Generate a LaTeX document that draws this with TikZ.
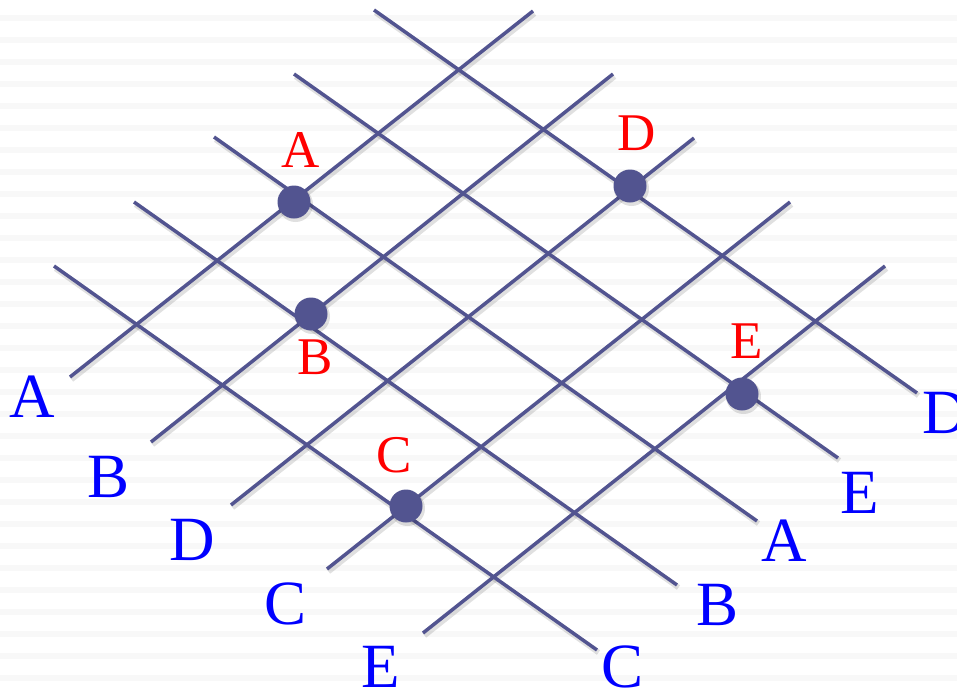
\documentclass[tikz,border=0pt]{standalone}
\usepackage{fontspec}
\setmainfont{Liberation Serif}
\usetikzlibrary{positioning}
\definecolor{gridline}{HTML}{525490}
\definecolor{stripe}{HTML}{F8F8F8}
\definecolor{tagblue}{HTML}{0000FF}
\definecolor{tagred}{HTML}{FF0000}

\begin{document}
\begin{tikzpicture}[x=1pt, y=-1pt,
  grid/.style={draw=gridline, line width=3.5pt},
  gridshade/.style={draw=black, opacity=0.12, line width=5.5pt},
  dot/.style={circle, fill=gridline, minimum size=33pt, inner sep=0pt},
  tag/.style={text=tagblue, font=\fontsize{63}{63}\selectfont, inner sep=0pt},
  hit/.style={text=tagred, font=\fontsize{53}{53}\selectfont, inner sep=0pt}]
\useasboundingbox (0,0) rectangle (957,691);
\clip (0,0) rectangle (957,691);
% striped background
\fill[white] (0,0) rectangle (957,691);
\foreach \y in {15,37,...,675}
  \fill[stripe] (0,\y) rectangle (957,\y+6);

% line ends, rising lines
\coordinate (uA-s) at (70,377);  \coordinate (uA-e) at (533,11);
\coordinate (uB-s) at (151,442); \coordinate (uB-e) at (613,74);
\coordinate (uD-s) at (231,505); \coordinate (uD-e) at (694,138);
\coordinate (uC-s) at (327,569); \coordinate (uC-e) at (790,202);
\coordinate (uE-s) at (423,633); \coordinate (uE-e) at (885,266);
% line ends, falling lines
\coordinate (dD-s) at (374,10);  \coordinate (dD-e) at (917,393);
\coordinate (dE-s) at (294,74);  \coordinate (dE-e) at (838,458);
\coordinate (dA-s) at (214,137); \coordinate (dA-e) at (757,521);
\coordinate (dB-s) at (134,202); \coordinate (dB-e) at (677,585);
\coordinate (dC-s) at (54,266);  \coordinate (dC-e) at (597,650);

\foreach \n in {uA,uB,uD,uC,uE,dD,dE,dA,dB,dC}
  \draw[gridshade] ([shift={(1.5,2.5)}]\n-s) -- ([shift={(1.5,2.5)}]\n-e);
\foreach \n in {uA,uB,uD,uC,uE,dD,dE,dA,dB,dC}
  \draw[grid] (\n-s) -- (\n-e);

% meeting points
\foreach \p/\xy in {A/{294,202},B/{311,314},D/{630,186},E/{742,394},C/{406,506}}
  \fill[black, opacity=0.12] ([shift={(1.5,2.5)}]\xy) circle (17.5pt);
\node[dot] (pA) at (294,202) {};
\node[dot] (pB) at (311,314) {};
\node[dot] (pD) at (630,186) {};
\node[dot] (pE) at (742,394) {};
\node[dot] (pC) at (406,506) {};

\node[hit] (hA) at (301,150) {A};
\node[hit] (hB) at (315,357) {B};
\node[hit] (hD) at (637,133) {D};
\node[hit] (hE) at (747,341) {E};
\node[hit] (hC) at (394,455) {C};

% line names
\node[tag] (tA) at (32,397) {A};
\node[tag] (tB) at (109,477) {B};
\node[tag] (tD) at (192,540) {D};
\node[tag] (tC) at (286,604) {C};
\node[tag] (tE) at (381,667) {E};
\node[tag] (tD2) at (945,413) {D};
\node[tag] (tE2) at (860,493) {E};
\node[tag] (tA2) at (784,541) {A};
\node[tag] (tB2) at (717,605) {B};
\node[tag] (tC2) at (622,667) {C};
\end{tikzpicture}
\end{document}
